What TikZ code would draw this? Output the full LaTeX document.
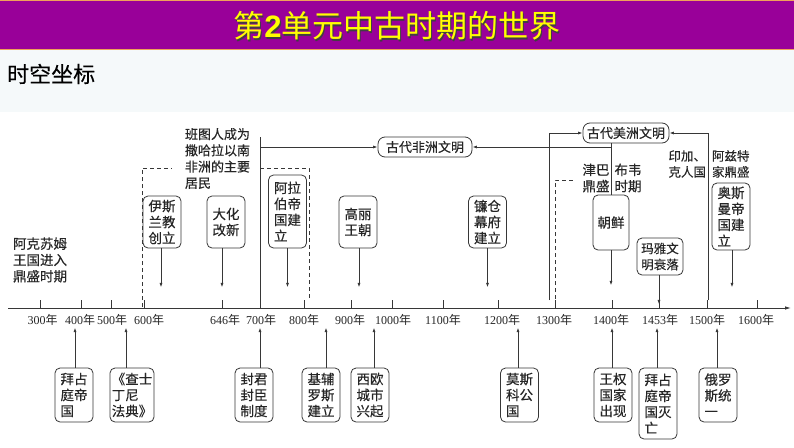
\documentclass[tikz,border=0pt]{standalone}
\usepackage{fontspec}
\setmainfont{Liberation Serif}
\newfontfamily\cjk{Noto Sans CJK SC}
\newfontfamily\cjkb[FakeBold=0.3]{Noto Sans CJK SC}
\newfontfamily\lsans{Liberation Sans}
\usetikzlibrary{arrows.meta}
\definecolor{barpurple}{RGB}{153,0,153}
\definecolor{barborder}{RGB}{240,160,90}
\definecolor{lightbg}{RGB}{245,249,250}
\definecolor{ink}{RGB}{55,55,55}
\definecolor{titleyellow}{RGB}{255,255,0}
\begin{document}
\begin{tikzpicture}[x=1pt,y=-1pt,
  ln/.style={draw=ink, line width=0.8pt},
  arr/.style={ln, -{Latex[length=4.5pt,width=3pt]}},
  dsh/.style={ln, dash pattern=on 4pt off 3pt},
  ebox/.style={draw=ink, line width=0.8pt, rounded corners=5pt, fill=white, align=left, inner sep=0pt, text=black!85, font=\cjkb\fontsize{13.5}{16}\selectfont, minimum width=38pt},
  civ/.style={draw=ink, line width=0.8pt, rounded corners=7pt, fill=white, inner sep=0pt, minimum height=20pt, text=black!85, font=\cjkb\fontsize{13}{15}\selectfont},
  note/.style={align=left, inner sep=0pt, text=black!85, font=\cjkb\fontsize{13.5}{16.3}\selectfont},
  yl/.style={font=\fontsize{12}{14}\selectfont, inner sep=0pt, text=black!85}
]
\useasboundingbox (0,0) rectangle (794,447);
\fill[white] (0,0) rectangle (794,447);
\fill[lightbg] (0,49) rectangle (794,112);
% title bar
\fill[barpurple] (0,0) rectangle (794,49);
\draw[barborder, line width=1pt] (0,0.5) -- (794,0.5);
\draw[barborder, line width=1pt] (0,49) -- (794,49);
\node[font=\cjk\fontsize{31}{31}\selectfont, text=black!75] (titleshadow) at (398.3,27.3) {第{\lsans\bfseries 2}单元中古时期的世界};
\node[font=\cjk\fontsize{31}{31}\selectfont, text=titleyellow] (title) at (397,26) {第{\lsans\bfseries 2}单元中古时期的世界};
\node[font=\cjkb\fontsize{22}{22}\selectfont, anchor=west, inner sep=0pt] (section) at (7,74) {时空坐标};

% axis
\coordinate (axL) at (8,308);
\coordinate (axR) at (791,308);
\draw[ln, line width=0.9pt, -{Latex[length=6pt,width=3.5pt]}] (axL) -- (axR);
\foreach \yr/\tx/\lx in {300/40/42.5,400/81/80,500/111/112,600/144/149,646/222/225,700/260/261,800/304/304,900/351/350,1000/392/393,1100/443/443,1200/498/502,1300/555/554,1400/612/611,1453/659/660,1500/707/707,1600/757/756}{
  \coordinate (t\yr) at (\tx,308);
  \draw[ln] (\tx,300) -- (t\yr);
  \node[yl] (l\yr) at (\lx,320) {\yr{\cjk 年}};
}

% dashed frames
\draw[dsh] (142,307) -- (142,168) -- (172,168);
\draw[dsh] (260,168) -- (309,168) -- (309,298);
\draw[dsh] (555,306) -- (555,180) -- (573,180);

% notes
\node[note] (aksum) at (40,260) {阿克苏姆\\王国进入\\鼎盛时期};
\node[note, font=\cjkb\fontsize{13}{16.3}\selectfont] (bantu) at (217.5,158.5) {班图人成为\\撒哈拉以南\\非洲的主要\\居民};
\node[note, align=center] (zimb) at (612,178) {津巴\hspace{5pt}布韦\\鼎盛\hspace{5pt}时期};
\node[note, align=center, font=\cjkb\fontsize{12.5}{16}\selectfont] (inca) at (709,164) {印加、\hspace{6pt}阿兹特\\克人国\hspace{6pt}家鼎盛};

% civilisations
\node[civ, minimum width=94pt] (africa) at (425,147) {古代非洲文明};
\node[civ, minimum width=86pt] (america) at (626,133) {古代美洲文明};
\coordinate (v700top) at (260,137);
\coordinate (v700bot) at (260,300);
\draw[ln] (v700top) -- (v700bot);
\draw[arr] (260,147) -- (africa.west);
\draw[arr] (611,147) -- (africa.east);
\draw[arr] (549,300) -- (549,133) -- (america.west);
\draw[arr] (708,300) -- (708,133) -- (america.east);

% upper events
\node[ebox, minimum height=52pt] (islam) at (162,222) {伊斯\\兰教\\创立};
\node[ebox, minimum height=52pt] (dahua) at (226,222) {大化\\改新};
\node[ebox, minimum height=73pt] (arab) at (287.5,211.5) {阿拉\\伯帝\\国建\\立};
\node[ebox, minimum height=52pt] (gaoli) at (358,222) {高丽\\王朝};
\node[ebox, minimum height=52pt] (lian) at (487.5,222) {镰仓\\幕府\\建立};
\node[ebox, minimum height=55pt, minimum width=36pt] (chaoxian) at (611,222.5) {朝鲜};
\node[ebox, minimum height=37pt, minimum width=46pt, font=\cjkb\fontsize{12.5}{16}\selectfont] (maya) at (660,256.5) {玛雅文\\明衰落};
\node[ebox, minimum height=67pt] (osman) at (731,216.5) {奥斯\\曼帝\\国建\\立};

\draw[ln] (america.south -| chaoxian.north) -- (chaoxian.north);
\draw[arr] ([xshift=-1pt]islam.south) -- ++(0,39);
\draw[arr] (dahua.south -| t646) -- ++(0,39);
\draw[arr] (arab.south) -- ++(0,39);
\draw[arr] ([xshift=1pt]gaoli.south) -- ++(0,39);
\draw[arr] (lian.south) -- ++(0,39);
\draw[arr] (chaoxian.south) -- ++(0,35);
\draw[arr] (maya.south -| t1453) -- ++(0,29);
\draw[arr] ([xshift=1pt]osman.south) -- ++(0,37);

% lower events
\node[ebox, minimum height=54pt] (bz1) at (74,395) {拜占\\庭帝\\国};
\node[ebox, minimum height=54pt, minimum width=44pt] (fadian) at (132,395) {《查士\\丁尼\\法典》};
\node[ebox, minimum height=54pt] (fengjun) at (254,395) {封君\\封臣\\制度};
\node[ebox, minimum height=54pt] (jifu) at (321,395) {基辅\\罗斯\\建立};
\node[ebox, minimum height=54pt] (xiou) at (370,395) {西欧\\城市\\兴起};
\node[ebox, minimum height=54pt] (mosike) at (519.5,395) {莫斯\\科公\\国};
\node[ebox, minimum height=54pt] (wangquan) at (613,395) {王权\\国家\\出现};
\node[ebox, minimum height=71pt] (bz2) at (658,403.5) {拜占\\庭帝\\国灭\\亡};
\node[ebox, minimum height=54pt] (eluosi) at (718,395) {俄罗\\斯统\\一};

\draw[arr] ([xshift=1pt]bz1.north) -- ++(0,-40);
\draw[arr] ([xshift=-6pt]fadian.north) -- ++(0,-40);
\draw[arr] ([xshift=6pt]fengjun.north) -- ++(0,-40);
\draw[arr] ([xshift=5pt]jifu.north) -- ++(0,-40);
\draw[arr] ([xshift=4pt]xiou.north) -- ++(0,-40);
\draw[arr] ([xshift=-1.5pt]mosike.north) -- ++(0,-40);
\draw[arr] ([xshift=-1pt]wangquan.north) -- ++(0,-40);
\draw[arr] ([xshift=-1pt]bz2.north) -- ++(0,-40);
\draw[arr] ([xshift=-1pt]eluosi.north) -- ++(0,-40);
\end{tikzpicture}
\end{document}
